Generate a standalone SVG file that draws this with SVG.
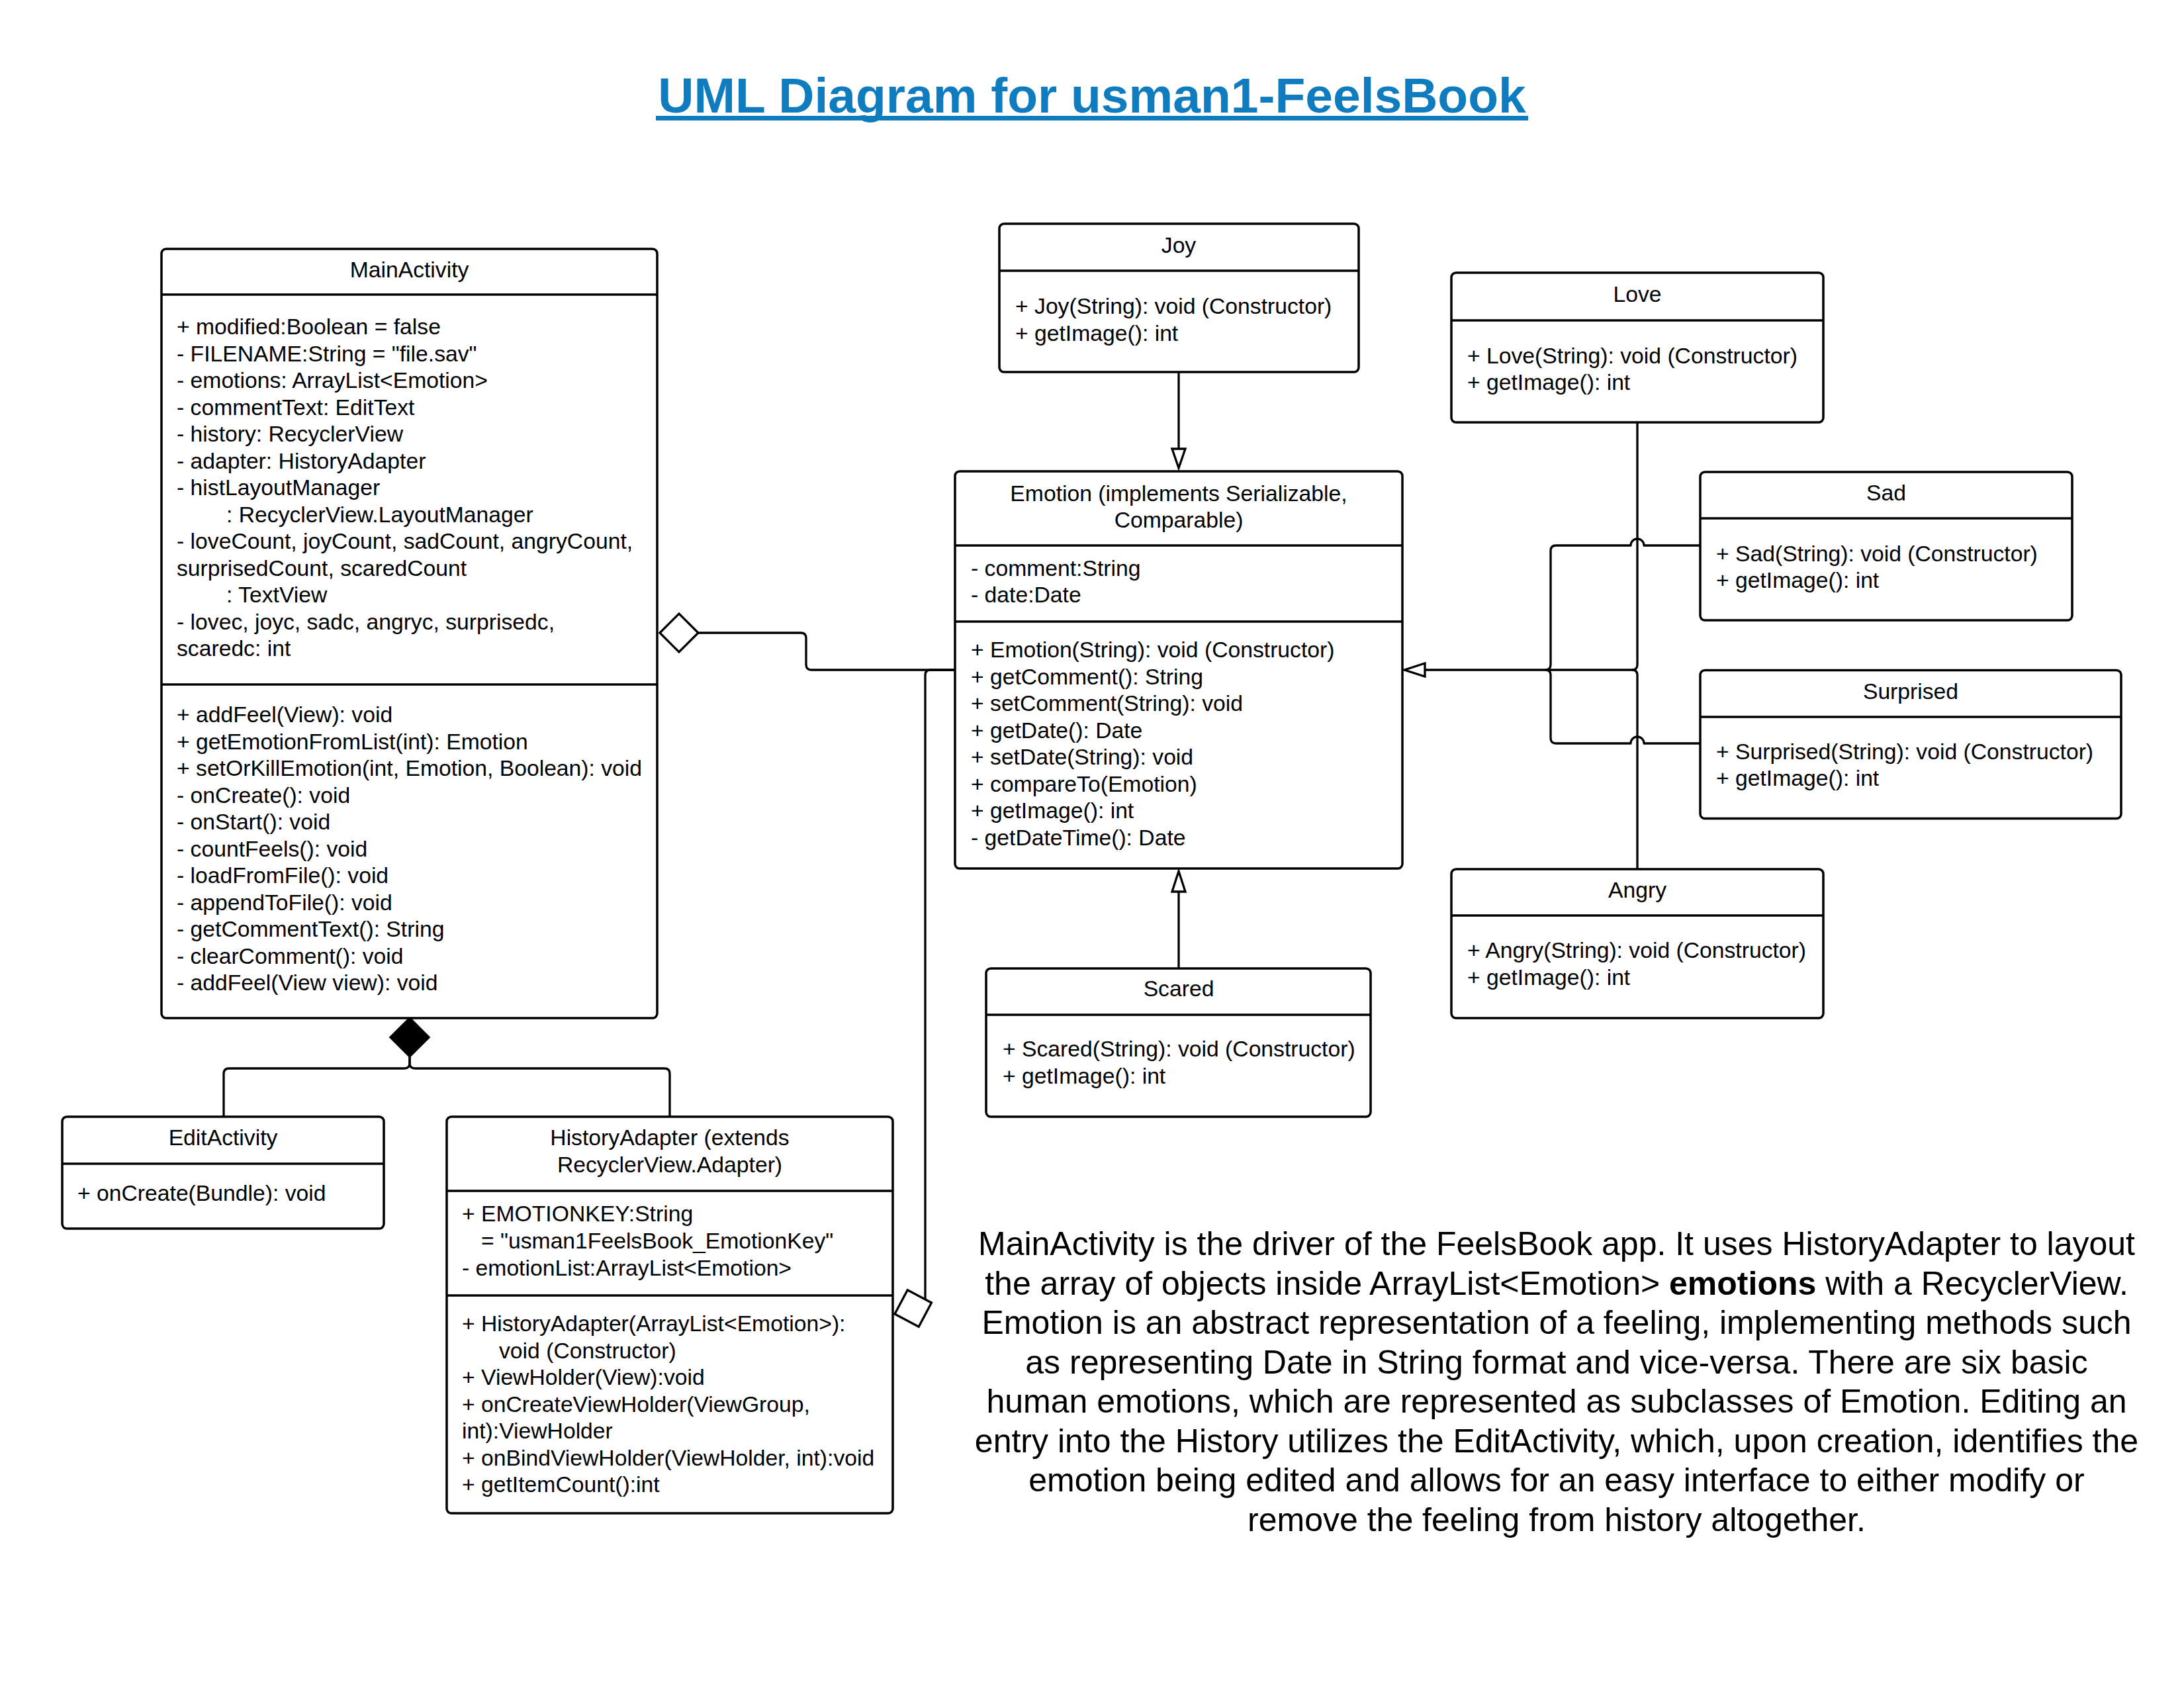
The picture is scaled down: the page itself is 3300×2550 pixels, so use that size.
<svg xmlns="http://www.w3.org/2000/svg" width="3300" height="2550" viewBox="0 0 3300 2550">
<style>
.box{fill:#fff;stroke:#000;stroke-width:3.5}
.dv{stroke:#000;stroke-width:3.5;fill:none}
.t{font-family:"Liberation Sans",Arial,Helvetica,sans-serif;font-size:33.7px;fill:#000}
.h{text-anchor:middle}
.conn{fill:none;stroke:#000;stroke-width:3.3;stroke-linejoin:round}
.hollow{fill:#fff;stroke:#000;stroke-width:3.3;stroke-linejoin:miter}
.solid{fill:#000;stroke:#000;stroke-width:3.3}
.desc{font-family:"Liberation Sans",Arial,Helvetica,sans-serif;font-size:50px;fill:#000;text-anchor:middle}
</style>
<rect width="3300" height="2550" fill="#fff"/>

<g id="title">
<text x="1650" y="170" font-family="'Liberation Sans',Arial,sans-serif" font-size="75" font-weight="bold" fill="#0e7cbf" text-anchor="middle">UML Diagram for usman1-FeelsBook</text>
<rect x="991" y="175" width="1318" height="7" fill="#0e7cbf"/>
</g>

<g id="connectors">
<path class="conn" d="M1055,956 H1210 Q1218,956 1218,964 V1004 Q1218,1012 1226,1012 H1443"/>
<polygon class="hollow" points="997,956 1026,927 1055,956 1026,985"/>
<path class="conn" d="M1443,1012 H1406 Q1398,1012 1398,1020 V1963"/>
<polygon class="hollow" points="1352,1985 1381,1956 1410,1985 1381,2014" transform="rotate(-17 1352 1985)"/>
<path class="conn" d="M619,1596 V1606 Q619,1614 611,1614 H346 Q338,1614 338,1622 V1687"/>
<path class="conn" d="M619,1596 V1606 Q619,1614 627,1614 H1004 Q1012,1614 1012,1622 V1687"/>
<polygon class="solid" points="619,1538 648,1567 619,1596 590,1567"/>
<path class="conn" d="M1781,562 V678"/>
<polygon class="hollow" points="1781,707 1771,678 1791,678"/>
<path class="conn" d="M1781,1463 V1347"/>
<polygon class="hollow" points="1781,1316 1771,1347 1791,1347"/>
<path class="conn" d="M2474,638 V1004 Q2474,1012 2466,1012 H2153"/>
<path class="conn" d="M2474,1313 V1020 Q2474,1012 2466,1012"/>
<path class="conn" d="M2569,824 H2484 A10,10 0 0 0 2464,824 H2351 Q2343,824 2343,832 V1004 Q2343,1012 2335,1012"/>
<path class="conn" d="M2569,1123 H2484 A10,10 0 0 0 2464,1123 H2351 Q2343,1123 2343,1115 V1020 Q2343,1012 2335,1012"/>
<polygon class="hollow" points="2122,1012 2153,1002 2153,1022"/>
</g>

<g id="MainActivity">
<rect class="box" x="244" y="376" width="749" height="1162" rx="7"/>
<line class="dv" x1="244" y1="445" x2="993" y2="445"/>
<line class="dv" x1="244" y1="1034" x2="993" y2="1034"/>
<text class="t h" x="618.5" y="419">MainActivity</text>
<text class="t" x="267" y="505">+ modified:Boolean = false</text>
<text class="t" x="267" y="545.5">- FILENAME:String = "file.sav"</text>
<text class="t" x="267" y="586">- emotions: ArrayList&lt;Emotion&gt;</text>
<text class="t" x="267" y="626.5">- commentText: EditText</text>
<text class="t" x="267" y="667">- history: RecyclerView</text>
<text class="t" x="267" y="707.5">- adapter: HistoryAdapter</text>
<text class="t" x="267" y="748">- histLayoutManager</text>
<text class="t" x="342" y="788.5">: RecyclerView.LayoutManager</text>
<text class="t" x="267" y="829">- loveCount, joyCount, sadCount, angryCount,</text>
<text class="t" x="267" y="869.5">surprisedCount, scaredCount</text>
<text class="t" x="342" y="910">: TextView</text>
<text class="t" x="267" y="950.5">- lovec, joyc, sadc, angryc, surprisedc,</text>
<text class="t" x="267" y="991">scaredc: int</text>
<text class="t" x="267" y="1091">+ addFeel(View): void</text>
<text class="t" x="267" y="1131.5">+ getEmotionFromList(int): Emotion</text>
<text class="t" x="267" y="1172">+ setOrKillEmotion(int, Emotion, Boolean): void</text>
<text class="t" x="267" y="1212.5">- onCreate(): void</text>
<text class="t" x="267" y="1253">- onStart(): void</text>
<text class="t" x="267" y="1293.5">- countFeels(): void</text>
<text class="t" x="267" y="1334">- loadFromFile(): void</text>
<text class="t" x="267" y="1374.5">- appendToFile(): void</text>
<text class="t" x="267" y="1415">- getCommentText(): String</text>
<text class="t" x="267" y="1455.5">- clearComment(): void</text>
<text class="t" x="267" y="1496">- addFeel(View view): void</text>
</g>

<g id="EditActivity">
<rect class="box" x="94" y="1687" width="486" height="169" rx="7"/>
<line class="dv" x1="94" y1="1758" x2="580" y2="1758"/>
<text class="t h" x="337" y="1730">EditActivity</text>
<text class="t" x="117" y="1814">+ onCreate(Bundle): void</text>
</g>

<g id="HistoryAdapter">
<rect class="box" x="675" y="1687" width="674" height="599" rx="7"/>
<line class="dv" x1="675" y1="1799" x2="1349" y2="1799"/>
<line class="dv" x1="675" y1="1957" x2="1349" y2="1957"/>
<text class="t h" x="1012" y="1730">HistoryAdapter (extends</text>
<text class="t h" x="1012" y="1771">RecyclerView.Adapter)</text>
<text class="t" x="698" y="1845">+ EMOTIONKEY:String</text>
<text class="t" x="727" y="1886">= "usman1FeelsBook_EmotionKey"</text>
<text class="t" x="698" y="1927">- emotionList:ArrayList&lt;Emotion&gt;</text>
<text class="t" x="698" y="2011">+ HistoryAdapter(ArrayList&lt;Emotion&gt;):</text>
<text class="t" x="754" y="2051.5">void (Constructor)</text>
<text class="t" x="698" y="2092">+ ViewHolder(View):void</text>
<text class="t" x="698" y="2132.5">+ onCreateViewHolder(ViewGroup,</text>
<text class="t" x="698" y="2173">int):ViewHolder</text>
<text class="t" x="698" y="2213.5">+ onBindViewHolder(ViewHolder, int):void</text>
<text class="t" x="698" y="2254">+ getItemCount():int</text>
</g>

<g id="Joy">
<rect class="box" x="1510" y="338" width="543" height="224" rx="7"/>
<line class="dv" x1="1510" y1="409" x2="2053" y2="409"/>
<text class="t h" x="1781" y="382">Joy</text>
<text class="t" x="1534" y="474">+ Joy(String): void (Constructor)</text>
<text class="t" x="1534" y="514.5">+ getImage(): int</text>
</g>

<g id="Emotion">
<rect class="box" x="1443" y="712" width="676" height="600" rx="7"/>
<line class="dv" x1="1443" y1="824" x2="2119" y2="824"/>
<line class="dv" x1="1443" y1="939" x2="2119" y2="939"/>
<text class="t h" x="1781" y="756.5">Emotion (implements Serializable,</text>
<text class="t h" x="1781" y="796.5">Comparable)</text>
<text class="t" x="1467" y="869.5">- comment:String</text>
<text class="t" x="1467" y="909.5">- date:Date</text>
<text class="t" x="1467" y="993">+ Emotion(String): void (Constructor)</text>
<text class="t" x="1467" y="1033.5">+ getComment(): String</text>
<text class="t" x="1467" y="1074">+ setComment(String): void</text>
<text class="t" x="1467" y="1114.5">+ getDate(): Date</text>
<text class="t" x="1467" y="1155">+ setDate(String): void</text>
<text class="t" x="1467" y="1195.5">+ compareTo(Emotion)</text>
<text class="t" x="1467" y="1236">+ getImage(): int</text>
<text class="t" x="1467" y="1276.5">- getDateTime(): Date</text>
</g>

<g id="Love">
<rect class="box" x="2193" y="412" width="562" height="226" rx="7"/>
<line class="dv" x1="2193" y1="484" x2="2755" y2="484"/>
<text class="t h" x="2474" y="456">Love</text>
<text class="t" x="2217" y="548.5">+ Love(String): void (Constructor)</text>
<text class="t" x="2217" y="589">+ getImage(): int</text>
</g>

<g id="Sad">
<rect class="box" x="2569" y="713" width="562" height="224" rx="7"/>
<line class="dv" x1="2569" y1="783" x2="3131" y2="783"/>
<text class="t h" x="2850" y="756">Sad</text>
<text class="t" x="2593" y="847.5">+ Sad(String): void (Constructor)</text>
<text class="t" x="2593" y="888">+ getImage(): int</text>
</g>

<g id="Surprised">
<rect class="box" x="2569" y="1012.5" width="636" height="224" rx="7"/>
<line class="dv" x1="2569" y1="1083" x2="3205" y2="1083"/>
<text class="t h" x="2887" y="1056">Surprised</text>
<text class="t" x="2593" y="1146.5">+ Surprised(String): void (Constructor)</text>
<text class="t" x="2593" y="1187">+ getImage(): int</text>
</g>

<g id="Angry">
<rect class="box" x="2193" y="1313" width="562" height="225" rx="7"/>
<line class="dv" x1="2193" y1="1383" x2="2755" y2="1383"/>
<text class="t h" x="2474" y="1356">Angry</text>
<text class="t" x="2217" y="1447">+ Angry(String): void (Constructor)</text>
<text class="t" x="2217" y="1487.5">+ getImage(): int</text>
</g>

<g id="Scared">
<rect class="box" x="1490" y="1463" width="581" height="224" rx="7"/>
<line class="dv" x1="1490" y1="1533" x2="2071" y2="1533"/>
<text class="t h" x="1781" y="1505">Scared</text>
<text class="t" x="1515" y="1596">+ Scared(String): void (Constructor)</text>
<text class="t" x="1515" y="1637">+ getImage(): int</text>
</g>

<g id="description">
<text class="desc" x="2352" y="1896">MainActivity is the driver of the FeelsBook app. It uses HistoryAdapter to layout</text>
<text class="desc" x="2352" y="1955.5">the array of objects inside ArrayList&lt;Emotion&gt; <tspan font-weight="bold">emotions</tspan> with a RecyclerView.</text>
<text class="desc" x="2352" y="2015">Emotion is an abstract representation of a feeling, implementing methods such</text>
<text class="desc" x="2352" y="2074.5">as representing Date in String format and vice-versa. There are six basic</text>
<text class="desc" x="2352" y="2134">human emotions, which are represented as subclasses of Emotion. Editing an</text>
<text class="desc" x="2352" y="2193.5">entry into the History utilizes the EditActivity, which, upon creation, identifies the</text>
<text class="desc" x="2352" y="2253">emotion being edited and allows for an easy interface to either modify or</text>
<text class="desc" x="2352" y="2312.5">remove the feeling from history altogether.</text>
</g>
</svg>
